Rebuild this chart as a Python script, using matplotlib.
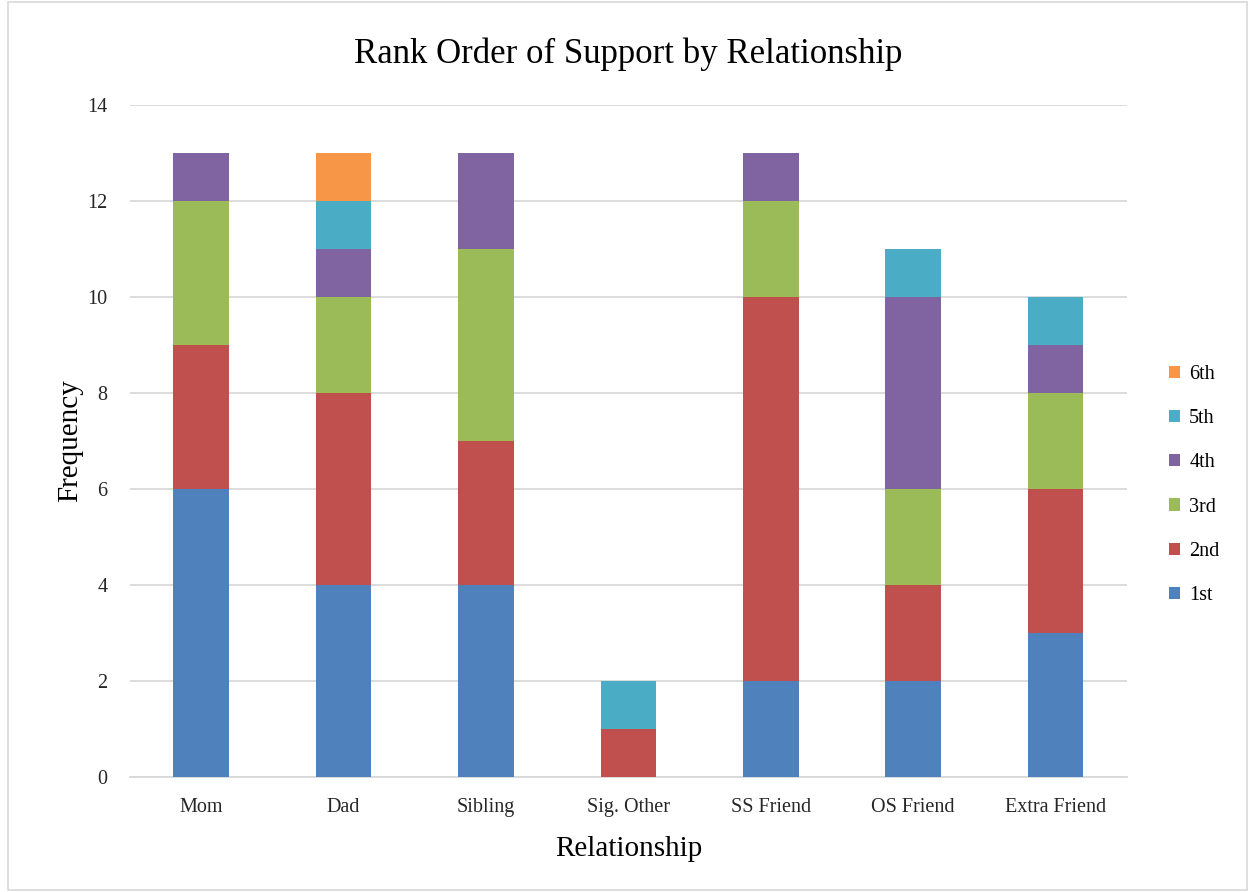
import numpy as np
import matplotlib.pyplot as plt
from matplotlib.patches import Rectangle

plt.rcParams['font.family'] = ['Liberation Serif', 'DejaVu Serif']

categories = ['Mom', 'Dad', 'Sibling', 'Sig. Other', 'SS Friend', 'OS Friend', 'Extra Friend']
ranks = ['1st', '2nd', '3rd', '4th', '5th', '6th']
first = [6, 4, 4, 0, 2, 2, 3]
second = [3, 4, 3, 1, 8, 2, 3]
third = [3, 2, 4, 0, 2, 2, 2]
fourth = [1, 1, 2, 0, 1, 4, 1]
fifth = [0, 1, 0, 1, 0, 1, 1]
sixth = [0, 1, 0, 0, 0, 0, 0]
colors = ['#4F81BD', '#C0504D', '#9BBB59', '#8064A2', '#4BACC6', '#F79646']

series = [first, second, third, fourth, fifth, sixth]

fig = plt.figure(figsize=(12.52, 8.92), dpi=100)
fig.patches.append(Rectangle((0.006, 0.002), 0.99, 0.996, transform=fig.transFigure,
                             fill=False, edgecolor='#D9D9D9', linewidth=1.2))
ax = fig.add_axes([0.1038, 0.1289, 0.7962, 0.7534])

x = np.arange(len(categories))
bottom = np.zeros(len(categories))
handles = []
for vals, col, lab in zip(series, colors, ranks):
    b = ax.bar(x, vals, 0.39, bottom=bottom, color=col, label=lab,
               linewidth=0, zorder=3)
    handles.append(b)
    bottom += np.array(vals)

ax.set_xlim(-0.5, 6.5)
ax.set_ylim(0, 14)
ax.set_yticks(range(0, 15, 2))
ax.set_xticks(x)
ax.set_xticklabels(categories)
ax.yaxis.grid(True, color='#D9D9D9', linewidth=1.3, zorder=0)
for s in ['top', 'right', 'left']:
    ax.spines[s].set_visible(False)
ax.spines['bottom'].set_color('#D9D9D9')
ax.spines['bottom'].set_linewidth(1.3)
ax.tick_params(axis='x', length=0, labelsize=14.5, colors='#262626', pad=15)
ax.tick_params(axis='y', length=0, labelsize=14.5, colors='#262626', pad=16)

ax.set_title('Rank Order of Support by Relationship', fontsize=25, pad=30)
ax.set_xlabel('Relationship', fontsize=21, labelpad=14)
ax.set_ylabel('Frequency', fontsize=21, labelpad=3)

ax.legend(handles[::-1], ranks[::-1], loc='center left', bbox_to_anchor=(1.0, 0.4345),
          frameon=False, fontsize=14.5, handlelength=0.55, handleheight=0.55,
          labelspacing=1.25, handletextpad=0.45, borderaxespad=1.7)

fig.savefig('out.png', dpi=100)
